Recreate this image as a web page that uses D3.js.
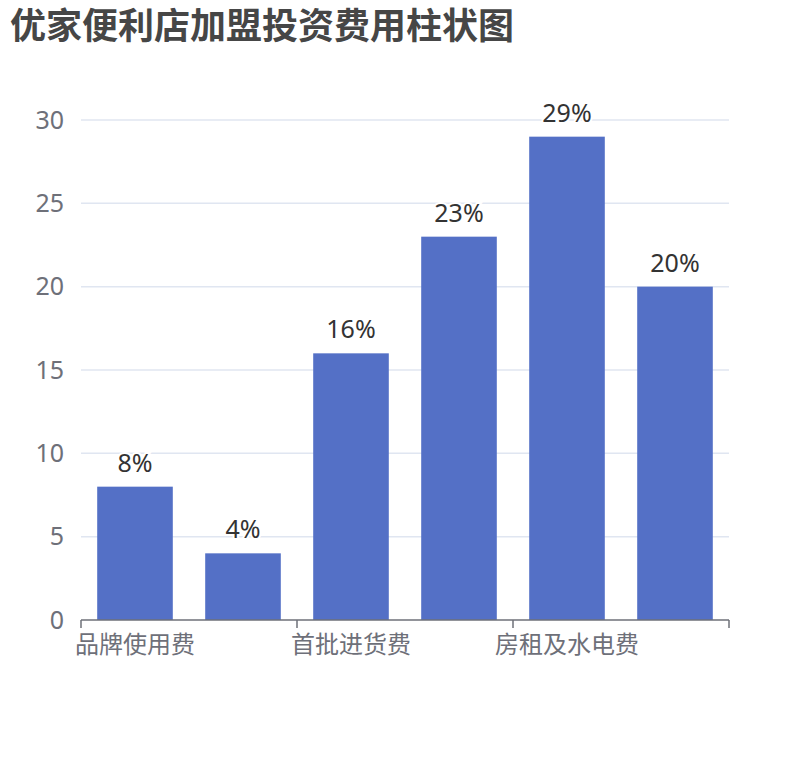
<!DOCTYPE html>
<html>
<head>
<meta charset="utf-8">
<script src="https://cdn.jsdelivr.net/npm/d3@7/dist/d3.min.js"></script>
<style>
  body { margin: 0; background: #fff; }
  text { font-family: "Noto Sans", "Noto Sans CJK SC", sans-serif; }
</style>
</head>
<body>
<div id="chart"></div>
<script>
// data
const categories = ['品牌使用费', '加盟保证金', '首批进货费', '装修费', '房租及水电费', '设备费'];
const values = [8, 4, 16, 23, 29, 20];
const yTicks = [0, 5, 10, 15, 20, 25, 30];
const titleText = '优家便利店加盟投资费用柱状图';

const dms = {
    width: 810,
    height: 760,
    margin: { top: 120, right: 81, bottom: 140, left: 81 }
};
dms.contentWidth = dms.width - dms.margin.left - dms.margin.right;
dms.contentHeight = dms.height - dms.margin.top - dms.margin.bottom;

const svg = d3.select('#chart').append('svg')
    .attr('width', dms.width)
    .attr('height', dms.height);

svg.append('text')
    .attr('x', 10)
    .attr('y', 39)
    .attr('font-size', 36)
    .attr('font-weight', 'bold')
    .attr('fill', '#464646')
    .text(titleText);

const content = svg.append('g')
    .attr('transform', `translate(${dms.margin.left},${dms.margin.top})`);

const x = d3.scaleBand()
    .domain(categories)
    .range([0, dms.contentWidth])
    .paddingInner(0.3)
    .paddingOuter(0.15);

const y = d3.scaleLinear()
    .domain([0, 30])
    .range([dms.contentHeight, 0]);

// grid
content.append('g')
    .selectAll('line')
    .data(yTicks.filter(d => d > 0))
    .join('line')
    .attr('x1', 0)
    .attr('x2', dms.contentWidth)
    .attr('y1', d => y(d))
    .attr('y2', d => y(d))
    .attr('stroke', '#e0e6f1')
    .attr('stroke-width', 1.5);

// y labels
const yAxis = content.append('g')
    .call(d3.axisLeft(y).tickValues(yTicks).tickSize(0).tickPadding(17));
yAxis.select('.domain').remove();
yAxis.selectAll('text')
    .attr('font-size', 25)
    .attr('fill', '#6e7079')
    .style('font-family', '"Noto Sans", sans-serif');

// bars
content.append('g')
    .selectAll('rect')
    .data(values)
    .join('rect')
    .attr('x', (d, i) => x(categories[i]))
    .attr('y', d => y(d))
    .attr('width', x.bandwidth())
    .attr('height', d => y(0) - y(d))
    .attr('fill', '#5470c6');

// value labels
content.append('g')
    .selectAll('text')
    .data(values)
    .join('text')
    .attr('x', (d, i) => x(categories[i]) + x.bandwidth() / 2)
    .attr('y', d => y(d) - 15)
    .attr('text-anchor', 'middle')
    .attr('font-size', 25)
    .attr('fill', '#333')
    .attr('stroke', '#fff')
    .attr('stroke-width', 4)
    .attr('paint-order', 'stroke')
    .text(d => d + '%');

// x axis
const step = dms.contentWidth / categories.length;
const xAxis = content.append('g')
    .attr('transform', `translate(0,${dms.contentHeight})`);
xAxis.append('line')
    .attr('x1', 0)
    .attr('x2', dms.contentWidth)
    .attr('stroke', '#6e7079')
    .attr('stroke-width', 1.5);
// ticks at every other category boundary, like the label interval
xAxis.selectAll('.tick')
    .data(d3.range(0, categories.length + 1, 2))
    .join('line')
    .attr('class', 'tick')
    .attr('x1', d => d * step)
    .attr('x2', d => d * step)
    .attr('y1', 0)
    .attr('y2', 8)
    .attr('stroke', '#6e7079')
    .attr('stroke-width', 1.5);
xAxis.selectAll('text')
    .data(categories.filter((d, i) => i % 2 === 0))
    .join('text')
    .attr('x', d => x(d) + x.bandwidth() / 2)
    .attr('y', 33)
    .attr('text-anchor', 'middle')
    .attr('font-size', 24)
    .attr('fill', '#6e7079')
    .style('font-family', '"Noto Sans CJK SC", sans-serif')
    .text(d => d);
</script>
</body>
</html>
